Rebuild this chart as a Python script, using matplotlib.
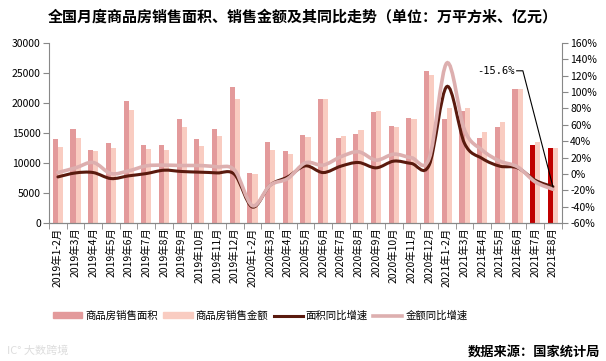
import numpy as np
import matplotlib
matplotlib.use('Agg')
import matplotlib.pyplot as plt
from matplotlib.path import Path
from matplotlib.patches import PathPatch, Patch
from matplotlib.lines import Line2D

plt.rcParams['font.family'] = ['Noto Sans CJK SC', 'DejaVu Sans']

# 月份
months = ['2019年1-2月', '2019年3月', '2019年4月', '2019年5月', '2019年6月', '2019年7月',
          '2019年8月', '2019年9月', '2019年10月', '2019年11月', '2019年12月',
          '2020年1-2月', '2020年3月', '2020年4月', '2020年5月', '2020年6月', '2020年7月',
          '2020年8月', '2020年9月', '2020年10月', '2020年11月', '2020年12月',
          '2021年1-2月', '2021年3月', '2021年4月', '2021年5月', '2021年6月', '2021年7月',
          '2021年8月']

# 销售面积（万平方米）、销售金额（亿元）
area = [14000, 15670, 12160, 13330, 20350, 12990, 12990, 17340, 14000, 15670, 22700,
        8310, 13490, 11990, 14670, 20690, 14220, 14830, 18510, 16170, 17510, 25370,
        17340, 18680, 14160, 16000, 22360, 12990, 12490]
amount = [12660, 14160, 11990, 12550, 18850, 12320, 12160, 16000, 12830, 14500, 20690,
          8140, 12160, 11490, 14330, 20690, 14500, 15560, 18680, 16000, 17340, 24700,
          19180, 19180, 15170, 16840, 22360, 13490, 12490]

# 同比增速（%）
area_yoy = [-3.6, 1.3, 1.7, -5.6, -2.3, 0.5, 4.6, 3.0, 2.2, 1.3, -0.7,
            -40.4, -13.8, -3.6, 9.9, 1.7, 9.5, 14.0, 7.5, 15.7, 12.8, 10.8,
            106.8, 37.3, 18.9, 9.5, 7.5, -7.7, -15.6]
amount_yoy = [1.7, 7.5, 14.0, 0.5, 3.8, 9.9, 10.8, 10.3, 10.3, 8.7, 4.6,
              -38.7, -13.8, -5.6, 13.6, 10.8, 21.0, 27.1, 16.9, 24.2, 19.8, 18.9,
              135.5, 53.7, 29.1, 15.7, 8.7, -9.7, -18.7]

c_area = '#E39A9B'
c_amount = '#F9CCC1'
c_hl = '#C00000'
c_line1 = '#5A1A0E'
c_line2 = '#DDAFAF'
grey = '#888888'


def smooth_path(x, y):
    # Excel-style smooth line: cubic bezier through every point
    pts = np.column_stack([x, y])
    verts = [pts[0]]
    codes = [Path.MOVETO]
    n = len(pts)
    for i in range(n - 1):
        p0 = pts[max(i - 1, 0)]
        p1 = pts[i]
        p2 = pts[i + 1]
        p3 = pts[min(i + 2, n - 1)]
        verts += [p1 + (p2 - p0) / 6, p2 - (p3 - p1) / 6, p2]
        codes += [Path.CURVE4] * 3
    return Path(verts, codes)


fig = plt.figure(figsize=(6.06, 3.61), dpi=100)
ax = fig.add_axes([0.081, 0.382, 0.846, 0.499])
ax2 = ax.twinx()

x = np.arange(len(months))
w = 0.29
area_cols = [c_area] * (len(months) - 2) + [c_hl] * 2
ax.bar(x - w / 2, area, w, color=area_cols, zorder=2)
ax.bar(x + w / 2, amount, w, color=c_amount, zorder=2)

ax.set_xlim(-0.5, len(months) - 0.5)
ax.set_ylim(0, 30000)
ax.set_yticks(range(0, 30001, 5000))
ax.set_xticks(x)
ax.set_xticklabels(months, rotation=90, fontsize=7.5)
ax.set_xticks(np.arange(-0.5, len(months), 1), minor=True)
ax.tick_params(axis='x', which='major', length=0, pad=3)
ax.tick_params(axis='x', which='minor', length=4, color=grey)
ax.tick_params(axis='y', labelsize=7.5, length=4, color=grey, pad=2)

ax2.add_patch(PathPatch(smooth_path(x, area_yoy), fill=False, ec=c_line1, lw=2.2,
                        capstyle='round', zorder=3))
ax2.add_patch(PathPatch(smooth_path(x, amount_yoy), fill=False, ec=c_line2, lw=2.6,
                        capstyle='round', zorder=4))
ax2.set_ylim(-60, 160)
ax2.set_yticks(range(-60, 161, 20))
ax2.set_yticklabels(['%d%%' % v for v in range(-60, 161, 20)])
ax2.tick_params(axis='y', labelsize=7.5, length=4, color=grey, pad=2)

for a in (ax, ax2):
    a.spines['top'].set_visible(False)
    for s in ('left', 'right', 'bottom'):
        a.spines[s].set_color(grey)
ax.spines['right'].set_visible(False)
ax2.spines['left'].set_visible(False)

# 最新值标注
last = len(months) - 1
ax2.plot([last - 2.05, last - 1.7, last], [126, 126, area_yoy[last]], color='black', lw=0.8, zorder=5)
ax2.text(last - 2.15, 126, '%.1f%%' % area_yoy[last], ha='right', va='center', fontsize=7.5,
         family='DejaVu Sans Mono', zorder=5)

fig.text(0.5, 0.953, '全国月度商品房销售面积、销售金额及其同比走势（单位：万平方米、亿元）',
         ha='center', va='center', fontsize=10.8, fontweight='bold')

handles = [Patch(color=c_area), Patch(color=c_amount),
           Line2D([], [], color=c_line1, lw=2.2), Line2D([], [], color=c_line2, lw=2.6)]
labels = ['商品房销售面积', '商品房销售金额', '面积同比增速', '金额同比增速']
fig.legend(handles, labels, loc='center', bbox_to_anchor=(0.43, 0.125), ncol=4, frameon=False,
           fontsize=7.5, handlelength=2.8, handleheight=0.5, columnspacing=0.5, handletextpad=0.3)

fig.text(0.99, 0.025, '数据来源：国家统计局', ha='right', va='center', fontsize=9.5, fontweight='bold')
fig.text(0.012, 0.03, 'IC° 大数跨境', ha='left', va='center', fontsize=8, color='#DDDDDD')

fig.savefig('out.png', dpi=100)
